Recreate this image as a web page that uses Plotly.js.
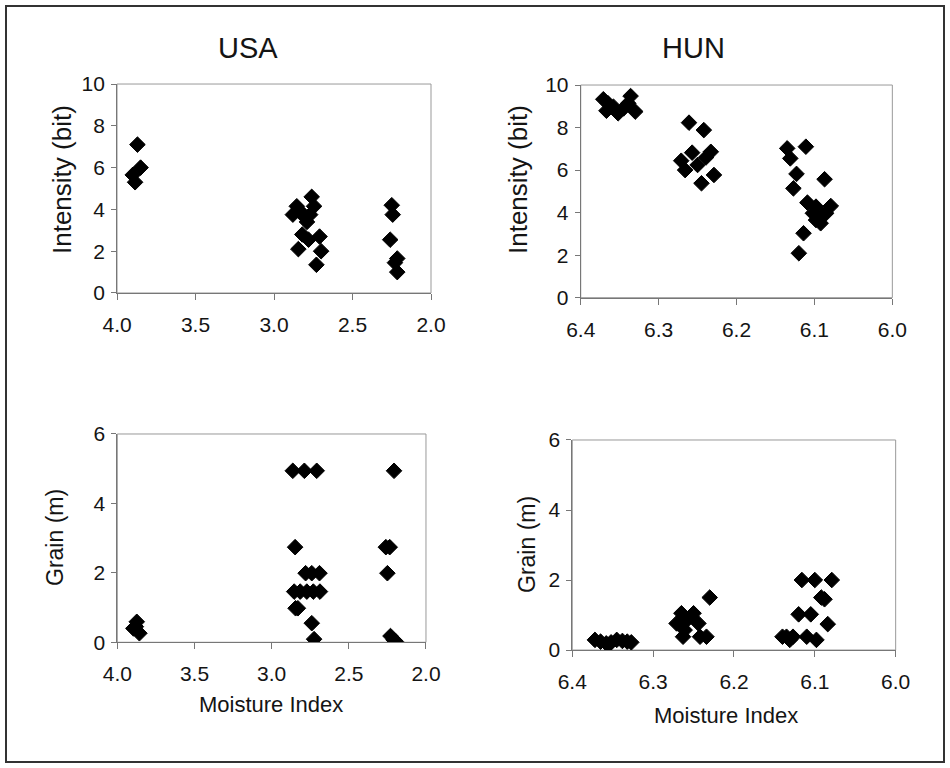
<!DOCTYPE html>
<html>
<head>
<meta charset="utf-8">
<script src="https://cdn.plot.ly/plotly-3.0.1.min.js"></script>
<style>
html,body{margin:0;padding:0;background:#fff;}
#chart{width:950px;height:768px;}
</style>
</head>
<body>
<div id="chart"></div>
<script>
// USA — Intensity (bit) vs Moisture Index
const usaIntMoisture = [3.87, 3.85, 3.90, 3.885, 2.76, 2.745, 2.855, 2.88, 2.84, 2.82, 2.77, 2.79, 2.80, 2.82, 2.78, 2.71, 2.845, 2.70, 2.73, 2.25, 2.244, 2.26, 2.215, 2.23, 2.215];
const usaIntensity   = [7.1, 6.0, 5.65, 5.3, 4.6, 4.15, 4.15, 3.75, 3.95, 3.8, 3.75, 3.4, 3.6, 2.8, 2.55, 2.7, 2.1, 2.0, 1.35, 4.2, 3.75, 2.55, 1.65, 1.45, 1.0];

// HUN — Intensity (bit) vs Moisture Index
const hunIntMoisture = [6.371, 6.365, 6.367, 6.358, 6.352, 6.345, 6.336, 6.339, 6.330, 6.261, 6.242, 6.271, 6.257, 6.266, 6.250, 6.233, 6.239, 6.229, 6.245, 6.135, 6.111, 6.131, 6.123, 6.127, 6.087, 6.109, 6.098, 6.079, 6.102, 6.089, 6.098, 6.092, 6.085, 6.114, 6.120];
const hunIntensity   = [9.33, 9.14, 8.79, 8.98, 8.67, 8.90, 9.48, 9.14, 8.75, 8.23, 7.88, 6.44, 6.82, 6.00, 6.24, 6.86, 6.60, 5.77, 5.38, 7.02, 7.10, 6.55, 5.82, 5.14, 5.57, 4.47, 4.28, 4.31, 3.97, 3.89, 3.65, 3.50, 3.97, 3.03, 2.09];

// USA — Grain (m) vs Moisture Index
const usaGrainMoisture = [3.874, 3.896, 3.857, 3.88, 2.863, 2.788, 2.708, 2.848, 2.78, 2.74, 2.69, 2.854, 2.815, 2.772, 2.73, 2.687, 2.845, 2.83, 2.74, 2.725, 2.207, 2.26, 2.235, 2.25, 2.23, 2.21, 2.195];
const usaGrain         = [0.59, 0.40, 0.26, 0.45, 4.94, 4.94, 4.94, 2.74, 1.99, 1.99, 1.99, 1.46, 1.46, 1.46, 1.46, 1.46, 0.98, 0.98, 0.55, 0.09, 4.94, 2.74, 2.74, 1.99, 0.18, 0.07, 0.02];

// HUN — Grain (m) vs Moisture Index
const hunGrainMoisture = [6.372, 6.365, 6.358, 6.352, 6.345, 6.338, 6.332, 6.327, 6.355, 6.265, 6.250, 6.271, 6.258, 6.244, 6.261, 6.263, 6.242, 6.234, 6.230, 6.116, 6.100, 6.079, 6.092, 6.088, 6.120, 6.105, 6.084, 6.135, 6.127, 6.110, 6.098, 6.131, 6.140];
const hunGrain         = [0.29, 0.24, 0.19, 0.22, 0.29, 0.26, 0.24, 0.22, 0.15, 1.05, 1.05, 0.76, 0.86, 0.76, 0.57, 0.38, 0.38, 0.38, 1.5, 2.0, 2.0, 2.0, 1.5, 1.45, 1.02, 1.02, 0.74, 0.38, 0.38, 0.38, 0.29, 0.29, 0.38];

const panelTitles = ["USA", "HUN"];
const yTitles = ["Intensity (bit)", "Grain (m)"];
const xTitle = "Moisture Index";
const usaXTicks = [4.0, 3.5, 3.0, 2.5, 2.0];
const hunXTicks = [6.4, 6.3, 6.2, 6.1, 6.0];
const intYTicks = [0, 2, 4, 6, 8, 10];
const grainYTicks = [0, 2, 4, 6];

const FONT = "Liberation Sans, Arial, sans-serif";
const INK = "#141414";
const marker = {symbol: "diamond", size: 12, color: "#000", line: {color: "#000", width: 1}};

function tr(x, y, xa, ya) {
  return {x: x, y: y, xaxis: xa, yaxis: ya, type: "scatter", mode: "markers", marker: marker, hoverinfo: "x+y", showlegend: false};
}

const data = [
  tr(usaIntMoisture, usaIntensity, "x", "y"),
  tr(hunIntMoisture, hunIntensity, "x2", "y2"),
  tr(usaGrainMoisture, usaGrain, "x3", "y3"),
  tr(hunGrainMoisture, hunGrain, "x4", "y4")
];

function xax(domain, range, ticks, anchor, fs) {
  return {
    domain: domain, range: range, anchor: anchor,
    tickvals: ticks, ticktext: ticks.map(v => v.toFixed(1)),
    ticks: "outside", ticklen: 6, tickcolor: "#777", tickwidth: 1,
    ticklabelstandoff: 7,
    showline: true, linecolor: "#777", linewidth: 1,
    showgrid: false, zeroline: false,
    tickfont: {family: FONT, size: fs, color: INK}
  };
}
function yax(domain, range, ticks, anchor, fs) {
  return {
    domain: domain, range: range, anchor: anchor,
    tickvals: ticks, ticks: "outside", ticklen: 5, tickcolor: "#777", tickwidth: 1,
    ticklabelstandoff: 2,
    showline: true, linecolor: "#777", linewidth: 1,
    showgrid: false, zeroline: false,
    tickfont: {family: FONT, size: fs, color: INK}
  };
}

function txt(text, x, y, size, angle) {
  return {text: text, xref: "paper", yref: "paper", x: x / 950, y: 1 - y / 768,
          xanchor: "center", yanchor: "middle", showarrow: false, textangle: angle || 0,
          font: {family: FONT, size: size, color: INK}};
}

const layout = {
  width: 950, height: 768,
  margin: {l: 0, r: 0, t: 0, b: 0},
  paper_bgcolor: "#fff", plot_bgcolor: "#fff",
  font: {family: FONT, color: INK},
  xaxis:  xax([0.1232, 0.4537], [4.0, 2.0], usaXTicks, "y", 21),
  yaxis:  yax([0.6185, 0.8906], [0, 10], intYTicks, "x", 21),
  xaxis2: xax([0.6113, 0.9393], [6.4, 6.0], hunXTicks, "y2", 21),
  yaxis2: yax([0.6124, 0.8893], [0, 10], intYTicks, "x2", 21),
  xaxis3: xax([0.1235, 0.4484], [4.0, 2.0], usaXTicks, "y3", 21),
  yaxis3: yax([0.1637, 0.4349], [0, 6], grainYTicks, "x3", 21),
  xaxis4: xax([0.6024, 0.9428], [6.4, 6.0], hunXTicks, "y4", 21),
  yaxis4: yax([0.1536, 0.4271], [0, 6], grainYTicks, "x4", 21),
  annotations: [
    txt(panelTitles[0], 248, 48, 29),
    txt(panelTitles[1], 693, 48, 29),
    txt(yTitles[0], 62, 180, 26, -90),
    txt(yTitles[0], 518, 180, 26, -90),
    txt(yTitles[1], 55, 538, 23, -90),
    txt(yTitles[1], 527, 545, 23, -90),
    txt(xTitle, 271, 704, 22),
    txt(xTitle, 726, 715, 22)
  ],
  shapes: [
    {type: "rect", xref: "paper", yref: "paper", x0: 6/950, x1: 944/950, y0: 1 - 762/768, y1: 1 - 6/768, line: {color: "#333", width: 2}},
    {type: "rect", xref: "x domain", yref: "y domain", x0: 0, x1: 1, y0: 0, y1: 1, line: {color: "#999", width: 1}, layer: "below"},
    {type: "rect", xref: "x2 domain", yref: "y2 domain", x0: 0, x1: 1, y0: 0, y1: 1, line: {color: "#999", width: 1}, layer: "below"},
    {type: "rect", xref: "x3 domain", yref: "y3 domain", x0: 0, x1: 1, y0: 0, y1: 1, line: {color: "#999", width: 1}, layer: "below"},
    {type: "rect", xref: "x4 domain", yref: "y4 domain", x0: 0, x1: 1, y0: 0, y1: 1, line: {color: "#999", width: 1}, layer: "below"}
  ]
};

Plotly.newPlot("chart", data, layout, {displayModeBar: false, staticPlot: true});
</script>
</body>
</html>
